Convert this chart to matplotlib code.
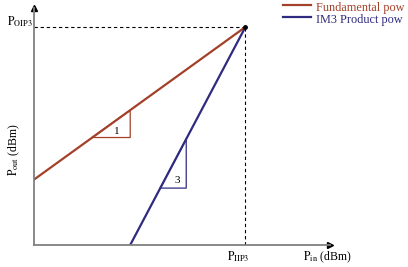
import matplotlib.pyplot as plt

plt.rcParams['font.family'] = ['Liberation Serif', 'DejaVu Serif']
plt.rcParams['mathtext.fontset'] = 'stix'

# input power axis values (arbitrary dBm units), intercept at IIP3/OIP3
iip3 = 10.0
oip3 = 10.0
fund_pin = [0.0, 10.0]
fund_pout = [3.0, 10.0]
im3_pin = [4.55, 10.0]
im3_pout = [0.0, 10.0]

# slope triangles
tri1_pin = [2.75, 4.55, 4.55, 2.75]
tri1_pout = [4.93, 4.93, 6.18, 4.93]
tri3_pin = [5.97, 7.2, 7.2, 5.97]
tri3_pout = [2.61, 2.61, 4.87, 2.61]

# legend text as it shows in the (cropped) picture
legend_labels = ['Fundamental pow', 'IM3 Product pow']

red = '#a3402a'
blue = '#2f2b80'

fig = plt.figure(figsize=(4.08, 2.67), dpi=100)
ax = fig.add_axes([34 / 408, 22 / 267, 296 / 408, 237 / 267])
ax.set_xlim(0, 14.0)
ax.set_ylim(0, 10.87)

for s in ['top', 'right']:
    ax.spines[s].set_visible(False)
for s in ['left', 'bottom']:
    ax.spines[s].set_color('#808080')
    ax.spines[s].set_linewidth(1.3)
ax.set_xticks([])
ax.set_yticks([])
ax.patch.set_alpha(0)

# arrow heads
ax.plot(1, 0, '>', color='black', ms=5, transform=ax.transAxes, clip_on=False)
ax.plot(0, 1, '^', color='black', ms=5, transform=ax.transAxes, clip_on=False)

# dashed intercept guides
ax.plot([0, iip3], [oip3, oip3], '--', color='black', lw=0.8, dashes=(3, 2.5))
ax.plot([iip3, iip3], [0, oip3], '--', color='black', lw=0.8, dashes=(3, 2.5))

ax.plot(fund_pin, fund_pout, color=red, lw=1.6)
ax.plot(im3_pin, im3_pout, color=blue, lw=1.6)
ax.plot([iip3], [oip3], 'o', color='black', ms=2.5)

ax.plot(tri1_pin, tri1_pout, color=red, lw=0.9)
ax.plot(tri3_pin, tri3_pout, color=blue, lw=0.9)
ax.text(3.9, 5.2, '1', fontsize=8, ha='center', va='center')
ax.text(6.78, 2.98, '3', fontsize=8, ha='center', va='center')

fig.text(20 / 408, 1 - 22 / 267, r'$\mathrm{P_{OIP3}}$', fontsize=8.5, ha='center', va='center')
fig.text(14 / 408, 1 - 150 / 267, r'$\mathrm{P_{out}}$ (dBm)', fontsize=8.5, ha='center', va='center', rotation=90)
fig.text(238 / 408, 1 - 257 / 267, r'$\mathrm{P_{IIP3}}$', fontsize=8.5, ha='center', va='center')
fig.text(303 / 408, 1 - 257 / 267, r'$\mathrm{P_{in}}$ (dBm)', fontsize=8.5, ha='left', va='center')

# legend drawn by hand at the top right
for i, (lab, col) in enumerate(zip(legend_labels, [red, blue])):
    y = 1 - (5 + 12 * i) / 267
    fig.add_artist(plt.Line2D([283 / 408, 311 / 408], [y, y], color=col, lw=1.6))
    fig.text(316 / 408, y - 3 / 267, lab, color=col, fontsize=8.8, ha='left', va='center')

fig.savefig('out.png', dpi=100)
